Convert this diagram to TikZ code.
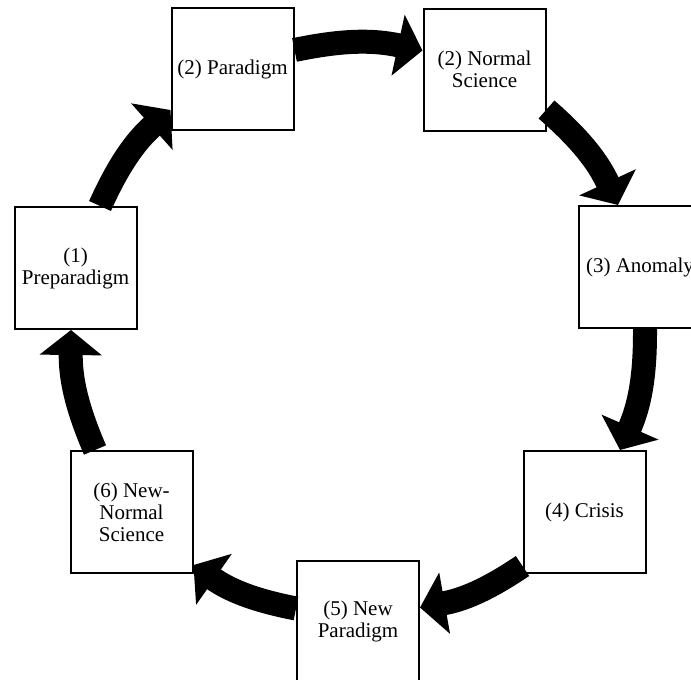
\documentclass[tikz,border=0pt]{standalone}
\usepackage{fontspec}
\setmainfont{Liberation Serif}
\usetikzlibrary{arrows.meta,positioning}
\tikzset{
    stage/.style={
    rectangle,draw=black,line width=2pt,fill=white,
    minimum width=122pt,minimum height=122pt,inner sep=0pt,
    align=center,font=\fontsize{21}{22}\selectfont
    },
    flow/.style={
    line width=24pt,-{Triangle[length=25pt,width=61pt]},bend left=12
    },
}
\begin{document}
\begin{tikzpicture}[x=1pt,y=1pt]
   \useasboundingbox (0,0) rectangle (691,-680);
   \node[stage] (pre) at (75.5,-268) {(1)\\Preparadigm};
   \node[stage] (pdm) at (232.5,-69) {(2) Paradigm};
   \node[stage] (ns)  at (484.5,-69.5) {(2) Normal\\Science};
   \node[stage] (anm) at (640,-267) {(3) Anomaly};
   \node[stage] (crs) at (584.5,-512) {(4) Crisis};
   \node[stage] (np)  at (358,-621.5) {(5) New\\Paradigm};
   \node[stage] (nns) at (131.5,-512) {(6) New-\\Normal\\Science};

  % the cycle, clockwise
  \draw[flow] ([yshift=19pt]pdm.east) to ([yshift=19pt]ns.west);
  \draw[flow] ([yshift=-40pt]ns.east) to ([xshift=-22pt]anm.north);
  \draw[flow] ([xshift=5pt]anm.south) to ([xshift=35.5pt]crs.north);
  \draw[flow] ([yshift=-54pt]crs.west) to ([yshift=14pt]np.east);
  \draw[flow] ([yshift=13pt]np.west) to ([yshift=-53pt]nns.east);
  \draw[flow] ([xshift=-36.5pt]nns.north) to ([xshift=-4.5pt]pre.south);
  \draw[flow] ([xshift=24.5pt]pre.north) to ([yshift=-41pt]pdm.west);
\end{tikzpicture}
\end{document}
